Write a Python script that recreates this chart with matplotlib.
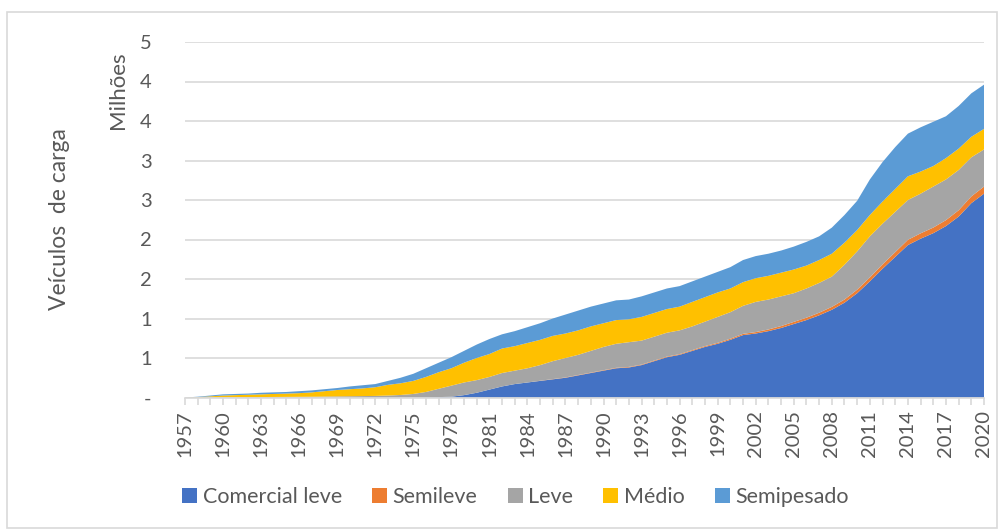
import numpy as np
import matplotlib.pyplot as plt
from matplotlib.patches import Rectangle
from matplotlib.ticker import FuncFormatter

plt.rcParams['font.family'] = ['Lato', 'DejaVu Sans']

years = list(range(1957, 2021))

# frota por categoria, em milhares de veículos
comercial_leve = [0, 0, 0, 0, 0, 0, 0, 0, 0, 0,
                  0, 0, 0, 0, 0, 0, 0, 0, 1, 2,
                  5, 10, 30, 60, 100, 140, 170, 190, 210, 230,
                  250, 280, 310, 340, 370, 380, 410, 460, 510, 540,
                  590, 640, 680, 730, 790, 810, 840, 880, 930, 980,
                  1040, 1110, 1200, 1320, 1470, 1630, 1780, 1930, 2010, 2080,
                  2170, 2290, 2460, 2580]
semileve = [0, 0, 0, 0, 0, 0, 0, 0, 0, 0,
            0, 0, 0, 0, 0, 0, 0, 0, 0, 0,
            0, 0, 0, 0, 0, 0, 0, 0, 2, 3,
            4, 5, 5, 6, 6, 7, 7, 8, 8, 9,
            10, 11, 12, 14, 16, 18, 21, 24, 27, 30,
            33, 37, 40, 45, 50, 55, 60, 66, 68, 71,
            75, 80, 85, 90]
leve = [0, 1, 2, 3, 4, 5, 6, 7, 8, 9,
        10, 12, 14, 16, 18, 20, 25, 32, 44, 68,
        105, 140, 160, 160, 160, 170, 170, 180, 198, 227,
        246, 255, 275, 294, 304, 313, 303, 302, 302, 301,
        300, 309, 328, 336, 354, 382, 379, 376, 363, 370,
        377, 383, 440, 485, 520, 515, 510, 504, 502, 519,
        515, 510, 495, 470]
medio = [0, 4, 13, 22, 26, 30, 34, 38, 42, 46,
         55, 68, 81, 89, 97, 110, 135, 148, 165, 190,
         210, 220, 250, 280, 290, 310, 310, 320, 320, 320,
         310, 310, 310, 300, 300, 290, 300, 300, 300, 300,
         310, 310, 310, 300, 300, 300, 300, 300, 300, 290,
         290, 290, 280, 270, 270, 280, 290, 300, 280, 260,
         270, 270, 260, 260]
semipesado = [0, 5, 10, 15, 15, 15, 20, 20, 20, 25,
              25, 25, 25, 35, 40, 40, 50, 70, 90, 110,
              120, 140, 150, 170, 190, 180, 190, 200, 210, 220,
              240, 250, 250, 250, 250, 250, 260, 260, 260, 260,
              260, 260, 260, 270, 280, 280, 280, 280, 290, 300,
              300, 330, 350, 370, 450, 500, 530, 540, 560, 560,
              530, 540, 550, 560]

labels = ['Comercial leve', 'Semileve', 'Leve', 'Médio', 'Semipesado']
colors = ['#4472C4', '#ED7D31', '#A5A5A5', '#FFC000', '#5B9BD5']

text_color = '#595959'
grid_color = '#d9d9d9'

fig = plt.figure(figsize=(9.99, 5.30), dpi=100)
fig.patches.append(Rectangle((7 / 999, 2 / 530), 990 / 999, 516 / 530,
                             transform=fig.transFigure, fill=False,
                             edgecolor=grid_color, linewidth=1.2))

ax = fig.add_axes([185 / 999, 0.25, 799 / 999, 355.5 / 530])

series = np.array([comercial_leve, semileve, leve, medio, semipesado]) / 1000
ax.stackplot(years, series, labels=labels, colors=colors, linewidth=0, zorder=3)

ax.set_xlim(1957, 2020)
ax.set_ylim(0, 4.5)
ax.set_yticks(np.arange(0, 4.51, 0.5))
ax.yaxis.set_major_formatter(FuncFormatter(
    lambda v, p: '-' if v == 0 else f'{int(v + 0.5)}'))
ax.grid(axis='y', color=grid_color, linewidth=1.2, zorder=0)

ax.set_xticks(years)
ax.set_xticklabels([str(y) if (y - 1957) % 3 == 0 else '' for y in years],
                   rotation=90)

for s in ['top', 'right', 'left']:
    ax.spines[s].set_visible(False)
ax.spines['bottom'].set_color(grid_color)
ax.spines['bottom'].set_linewidth(1.2)
ax.spines['bottom'].set_zorder(4)

ax.tick_params(axis='x', colors=grid_color, length=5, width=1.2,
               labelcolor=text_color, labelsize=14.5, pad=4)
ax.tick_params(axis='y', length=0, labelcolor=text_color, labelsize=14.5,
               pad=24)

fig.text(118 / 999, 1 - 90 / 530, 'Milhões', rotation=90, ha='center',
         va='center', color=text_color, fontsize=16)
fig.text(60 / 999, 1 - 219 / 530, 'Veículos  de carga', rotation=90,
         ha='center', va='center', color=text_color, fontsize=16.5)

fig.legend(loc='center', bbox_to_anchor=(0.516, 33 / 530), ncol=5,
           frameon=False, fontsize=15.5, labelcolor=text_color,
           handlelength=0.7, handleheight=0.7, handletextpad=0.25,
           columnspacing=1.4)

fig.savefig('out.png', dpi=100)
